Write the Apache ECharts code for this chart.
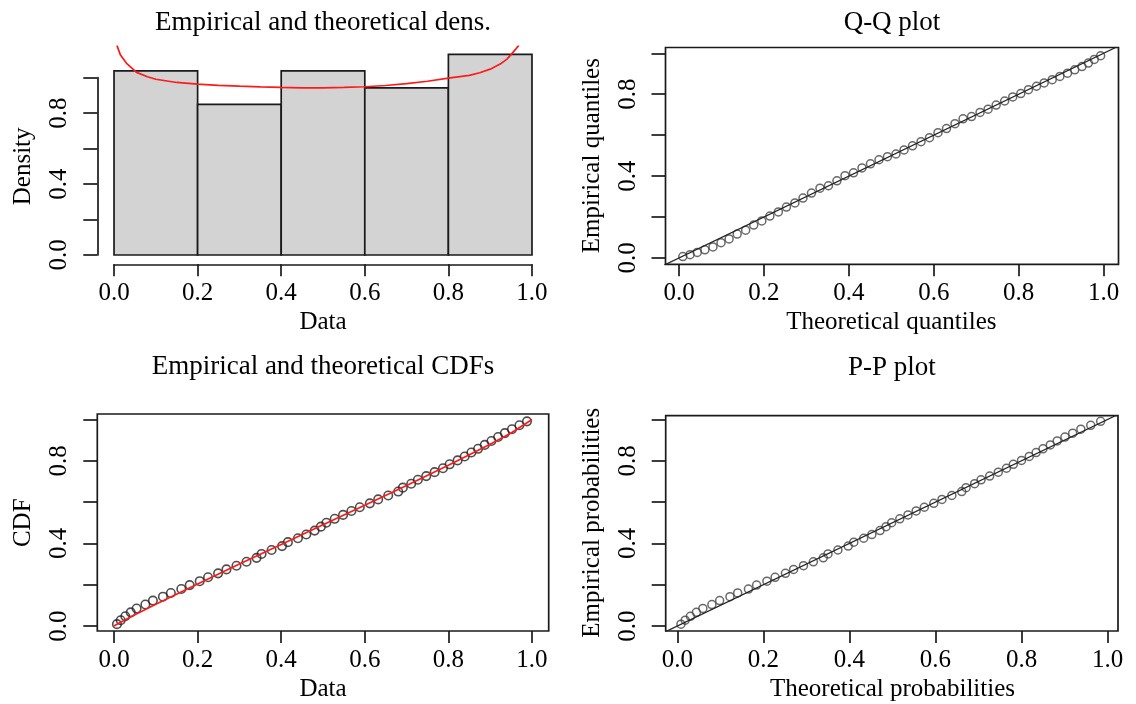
<!DOCTYPE html>
<html>
<head>
<meta charset="utf-8">
<script src="https://cdn.jsdelivr.net/npm/echarts@6/dist/echarts.min.js"></script>
<style>
  html, body { margin: 0; padding: 0; background: #fff; }
  #chart { width: 1136px; height: 704px; }
</style>
</head>
<body>
<div id="chart"></div>
<script>
// histogram (density scale)
const breaks = [0, 0.2, 0.4, 0.6, 0.8, 1.0];
const histDensity = [1.038, 0.849, 1.038, 0.943, 1.132];

// fitted density, red curve
const densX = [0.004, 0.008, 0.015, 0.03, 0.054, 0.08, 0.1, 0.15, 0.2, 0.25, 0.3, 0.35, 0.4, 0.45,
  0.5, 0.55, 0.6, 0.65, 0.7, 0.75, 0.8, 0.85, 0.875, 0.9, 0.925, 0.94, 0.95, 0.96, 0.967, 0.975];
const densY = [1.30, 1.175, 1.13, 1.081, 1.03, 1.005, 0.991, 0.973, 0.964, 0.957, 0.952, 0.948, 0.945, 0.943,
  0.943, 0.945, 0.949, 0.956, 0.967, 0.98, 0.997, 1.013, 1.028, 1.048, 1.078, 1.105, 1.13, 1.158, 1.178, 1.23];

// sorted observations
const sample = [0.007, 0.016, 0.027, 0.040, 0.054, 0.075, 0.093, 0.117, 0.136, 0.161, 0.181,
  0.205, 0.225, 0.249, 0.269, 0.293, 0.317, 0.341, 0.353, 0.377,
  0.402, 0.416, 0.440, 0.460, 0.480, 0.495, 0.508, 0.528, 0.548, 0.568, 0.588,
  0.612, 0.632, 0.656, 0.680, 0.691, 0.711, 0.727, 0.747, 0.767, 0.787,
  0.803, 0.822, 0.839, 0.855, 0.871, 0.887, 0.903, 0.919, 0.935, 0.952, 0.970, 0.988];

// empirical probabilities
const empProb = [0.009, 0.028, 0.047, 0.066, 0.085, 0.104, 0.123, 0.142, 0.160, 0.179, 0.198,
  0.217, 0.236, 0.255, 0.274, 0.292, 0.311, 0.330, 0.349, 0.368,
  0.387, 0.406, 0.425, 0.443, 0.462, 0.481, 0.500, 0.519, 0.538, 0.557, 0.575,
  0.594, 0.613, 0.632, 0.651, 0.670, 0.689, 0.708, 0.726, 0.745, 0.764,
  0.783, 0.802, 0.821, 0.840, 0.858, 0.877, 0.896, 0.915, 0.934, 0.953, 0.972, 0.991];

// theoretical quantiles (Q-Q x)
const theoQuant = [0.009, 0.026, 0.043, 0.061, 0.080, 0.099, 0.118, 0.137, 0.157, 0.176, 0.195,
  0.214, 0.234, 0.253, 0.273, 0.292, 0.312, 0.332, 0.352, 0.372,
  0.391, 0.411, 0.431, 0.451, 0.471, 0.491, 0.511, 0.530, 0.550, 0.570, 0.590,
  0.610, 0.630, 0.650, 0.669, 0.689, 0.709, 0.728, 0.747, 0.767, 0.786,
  0.805, 0.823, 0.842, 0.860, 0.879, 0.897, 0.915, 0.932, 0.949, 0.964, 0.978, 0.993];

// theoretical probabilities (P-P x)
const theoProb = [0.008, 0.018, 0.030, 0.044, 0.059, 0.080, 0.098, 0.122, 0.140, 0.165, 0.184,
  0.208, 0.227, 0.251, 0.270, 0.293, 0.316, 0.339, 0.350, 0.373,
  0.397, 0.410, 0.433, 0.452, 0.471, 0.485, 0.498, 0.517, 0.536, 0.555, 0.574,
  0.596, 0.615, 0.638, 0.661, 0.671, 0.691, 0.706, 0.726, 0.746, 0.765,
  0.781, 0.800, 0.818, 0.834, 0.850, 0.867, 0.883, 0.901, 0.919, 0.938, 0.961, 0.984];

// fitted CDF, red line
const cdfX = [0, 0.01, 0.025, 0.05, 0.1, 0.2, 0.3, 0.4, 0.5, 0.6, 0.7, 0.8, 0.9, 0.95, 1.0];
const cdfY = [0, 0.012, 0.028, 0.055, 0.105, 0.203, 0.300, 0.395, 0.490, 0.585, 0.680, 0.778, 0.880, 0.935, 1.0];

// y = x reference
const refLine = [-0.1, 1.1];

const tickStep = 0.2;
const labeledY = ['0.0', '0.4', '0.8'];

const FONT = 'Liberation Serif';
const INK = '#1a1a1a';

// plot boxes in px [left, top, right, bottom] and the data range they span
const panels = [
  { box: [97.3, 46.3, 548.7, 264.3], xr: [-0.04, 1.04], yr: [-0.0525, 1.177], framed: false,
    title: 'Empirical and theoretical dens.', titleY: 23, xName: 'Data', yName: 'Density' },
  { box: [665.5, 47.5, 1118.5, 264.3], xr: [-0.0318, 1.0351], yr: [-0.0308, 1.0283], framed: true,
    title: 'Q-Q plot', titleY: 23, xName: 'Theoretical quantiles', yName: 'Empirical quantiles' },
  { box: [97.3, 414, 548.7, 631], xr: [-0.04, 1.04], yr: [-0.0242, 1.0266], framed: true,
    title: 'Empirical and theoretical CDFs', titleY: 367, xName: 'Data', yName: 'CDF' },
  { box: [665.7, 415.7, 1118, 631], xr: [-0.0274, 1.0244], yr: [-0.0242, 1.0184], framed: true,
    title: 'P-P plot', titleY: 368, xName: 'Theoretical probabilities', yName: 'Empirical probabilities' }
];

const px = (p, x) => p.box[0] + (x - p.xr[0]) / (p.xr[1] - p.xr[0]) * (p.box[2] - p.box[0]);
const py = (p, y) => p.box[3] - (y - p.yr[0]) / (p.yr[1] - p.yr[0]) * (p.box[3] - p.box[1]);

const grid = [], xAxis = [], yAxis = [], graphic = [];
const textStyle = { fontFamily: FONT, fontSize: 25, color: '#000' };

panels.forEach((p, k) => {
  const [L, T, R, B] = p.box;
  // data grid
  grid.push({ left: L, top: T, width: R - L, height: B - T, show: p.framed,
    borderColor: INK, borderWidth: 1.7, backgroundColor: 'transparent', outerBoundsMode: 'none' });
  xAxis.push({ type: 'value', gridIndex: 2 * k, min: p.xr[0], max: p.xr[1], show: false });
  yAxis.push({ type: 'value', gridIndex: 2 * k, min: p.yr[0], max: p.yr[1], show: false });

  // axis grid spanning the tick range 0..1, axes pushed out to the box edge
  const aL = px(p, 0), aR = px(p, 1), aT = py(p, 1), aB = py(p, 0);
  grid.push({ left: aL, top: aT, width: aR - aL, height: aB - aT, show: false, outerBoundsMode: 'none' });
  xAxis.push({
    type: 'value', gridIndex: 2 * k + 1, min: 0, max: 1, interval: tickStep, position: 'bottom',
    offset: B - aB,
    axisLine: { show: !p.framed, onZero: false, lineStyle: { color: INK, width: 1.7 } },
    axisTick: { show: true, length: 12, lineStyle: { color: INK, width: 1.7 } },
    axisLabel: { show: true, margin: 17, fontFamily: FONT, fontSize: 25, color: '#000',
      formatter: v => v.toFixed(1) },
    splitLine: { show: false },
    name: p.xName, nameLocation: 'middle', nameGap: 46, nameMoveOverlap: false, nameTextStyle: textStyle
  });
  yAxis.push({
    type: 'value', gridIndex: 2 * k + 1, min: 0, max: 1, interval: tickStep, position: 'left',
    offset: aL - L,
    axisLine: { show: !p.framed, onZero: false, lineStyle: { color: INK, width: 1.7 } },
    axisTick: { show: true, length: 14, lineStyle: { color: INK, width: 1.7 } },
    axisLabel: { show: true, margin: 25, rotate: 90, fontFamily: FONT, fontSize: 25, color: '#000',
      formatter: v => (labeledY.includes(v.toFixed(1)) ? v.toFixed(1) : '') },
    splitLine: { show: false },
    name: p.yName, nameLocation: 'middle', nameGap: 61, nameRotate: 90, nameMoveOverlap: false,
    nameTextStyle: textStyle
  });

  graphic.push({
    type: 'text', x: (L + R) / 2, y: p.titleY,
    style: { text: p.title, fontFamily: FONT, fontSize: 27, fill: '#000', align: 'center', verticalAlign: 'middle' }
  });
});

const circle = (size, ink, width) => ({
  type: 'scatter', symbol: 'circle', symbolSize: size,
  itemStyle: { color: 'rgba(0,0,0,0)', borderColor: ink, borderWidth: width },
  clip: true, silent: true
});

const series = [
  // histogram bars
  {
    type: 'custom', xAxisIndex: 0, yAxisIndex: 0, clip: true,
    data: histDensity.map((d, i) => [breaks[i], breaks[i + 1], d]),
    encode: { x: [0, 1], y: 2 },
    renderItem: (params, api) => {
      const a = api.coord([api.value(0), 0]);
      const b = api.coord([api.value(1), api.value(2)]);
      return {
        type: 'rect',
        shape: { x: a[0], y: b[1], width: b[0] - a[0], height: a[1] - b[1] },
        style: { fill: '#d3d3d3', stroke: INK, lineWidth: 1.7 }
      };
    }
  },
  {
    type: 'line', xAxisIndex: 0, yAxisIndex: 0, clip: true, showSymbol: false, z: 5,
    data: densX.map((x, i) => [x, densY[i]]),
    lineStyle: { color: '#ff1a1a', width: 1.7 }
  },
  // Q-Q
  Object.assign(circle(8, '#444', 1.5), { xAxisIndex: 2, yAxisIndex: 2, data: theoQuant.map((q, i) => [q, sample[i]]) }),
  {
    type: 'line', xAxisIndex: 2, yAxisIndex: 2, clip: true, showSymbol: false,
    data: refLine.map(v => [v, v]), lineStyle: { color: '#222', width: 1.2 }
  },
  // CDF
  Object.assign(circle(8.5, '#222', 1.6), { xAxisIndex: 4, yAxisIndex: 4, data: sample.map((x, i) => [x, empProb[i]]) }),
  {
    type: 'line', xAxisIndex: 4, yAxisIndex: 4, clip: true, showSymbol: false, z: 5,
    data: cdfX.map((x, i) => [x, cdfY[i]]), lineStyle: { color: '#ff1a1a', width: 1.7 }
  },
  // P-P
  Object.assign(circle(8, '#444', 1.5), { xAxisIndex: 6, yAxisIndex: 6, data: theoProb.map((t, i) => [t, empProb[i]]) }),
  {
    type: 'line', xAxisIndex: 6, yAxisIndex: 6, clip: true, showSymbol: false,
    data: refLine.map(v => [v, v]), lineStyle: { color: '#222', width: 1.2 }
  }
];

const chart = echarts.init(document.getElementById('chart'));
chart.setOption({
  animation: false,
  backgroundColor: '#fff',
  grid, xAxis, yAxis, series, graphic
});
</script>
</body>
</html>
